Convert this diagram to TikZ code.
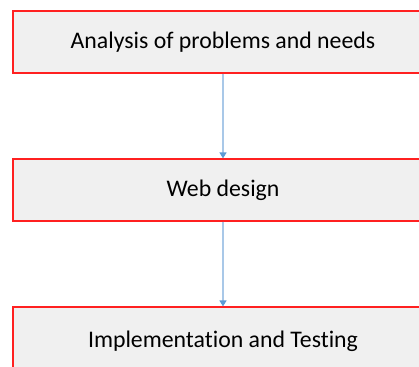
\documentclass[tikz,border=0pt]{standalone}
\usepackage{fontspec}
\setmainfont[Ligatures=NoCommon]{Carlito}
\usetikzlibrary{arrows.meta}
\definecolor{boxfill}{HTML}{F0F0F0}
\definecolor{boxline}{HTML}{FF2020}
\definecolor{lineblue}{HTML}{A9C8E8}
\definecolor{headblue}{HTML}{5B9BD5}
\begin{document}
\begin{tikzpicture}[x=1pt,y=-1pt,
  stepbox/.style={draw=boxline,line width=1.2pt,fill=boxfill,minimum width=420pt,minimum height=62pt,inner sep=0pt,font=\fontsize{23.8}{27}\selectfont},
  flow/.style={draw=lineblue,line width=1.3pt,-{Triangle[width=7pt,length=6pt,color=headblue,fill=headblue]}}]
\useasboundingbox (0,0) rectangle (419,366);
\clip (0,0) rectangle (419,366);
\fill[white] (0,0) rectangle (419,366);
\node[stepbox] (a) at (223,42) {Analysis of problems and needs};
\node[stepbox] (b) at (223,190) {Web design};
\node[stepbox,minimum height=68pt] (c) at (223,341) {Implementation and Testing};
\draw[flow] (a) -- (b);
\draw[flow] (b) -- (c);
\end{tikzpicture}
\end{document}
